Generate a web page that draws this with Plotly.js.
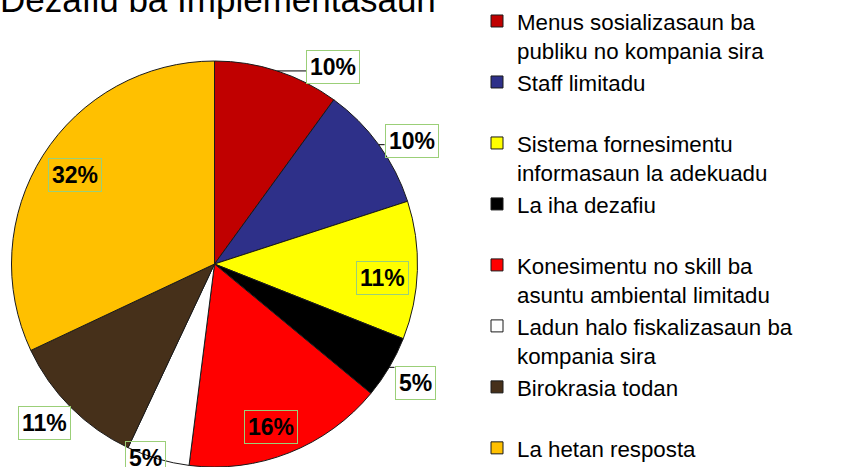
<!DOCTYPE html>
<html><head><meta charset="utf-8">
<script src="https://cdn.plot.ly/plotly-3.0.1.min.js"></script>
<style>html,body{margin:0;padding:0;background:#fff}#chart{width:850px;height:467px}</style>
</head><body><div id="chart"></div>
<script>
// ---- data ----
const chartTitle = 'Dezafiu ba Implementasaun';
const categories = [
  'Menus sosializasaun ba<br>publiku no kompania sira',
  'Staff limitadu',
  'Sistema fornesimentu<br>informasaun la adekuadu',
  'La iha dezafiu',
  'Konesimentu no skill ba<br>asuntu ambiental limitadu',
  'Ladun halo fiskalizasaun ba<br>kompania sira',
  'Birokrasia todan',
  'La hetan resposta'
];
const values = [10, 10, 11, 5, 16, 5, 11, 32];
const sliceColors = ['#C00000', '#2E3089', '#FFFF00', '#000000', '#FF0000', '#FFFFFF', '#46301A', '#FFC000'];
// label placement relative to each slice: [radius factor, angle offset (deg)]
const labelPlacement = [[1.135, 13], [1.145, 4], [0.83, 3], [1.148, 0], [0.85, 2.6], [1.017, 3.4], [1.145, 2], [0.816, 0]];

// ---- geometry ----
const W = 850, H = 467;
const domX = [11 / W, 418 / W], domY = [0, 406 / H];
const pieW = (domX[1] - domX[0]) * W, pieH = (domY[1] - domY[0]) * H;
const R = Math.min(pieW, pieH) / 2;
const cx = (domX[0] + domX[1]) / 2 * W, cy = H - (domY[0] + domY[1]) / 2 * H;
const total = values.reduce((a, b) => a + b, 0);
const labFont = 23, labPad = 3;

const legendLabels = categories.map(c => c.indexOf('<br>') >= 0 ? c : c + '<br>\u00a0');

const annotations = [], shapes = [];
let cum = 0;
values.forEach((v, i) => {
  const mid = (cum + v / 2) / total * 360; cum += v;
  const [rf, off] = labelPlacement[i];
  const a = (mid + off) * Math.PI / 180;
  const lx = cx + R * rf * Math.sin(a), ly = cy - R * rf * Math.cos(a);
  const txt = Math.round(v / total * 100) + '%';
  annotations.push({
    xref: 'paper', yref: 'paper', x: lx / W, y: 1 - ly / H, text: '<b>' + txt + '</b>',
    showarrow: false, xanchor: 'center', yanchor: 'middle',
    font: {family: 'Liberation Sans, Arial, sans-serif', size: labFont, color: '#000'},
    bordercolor: '#9BCF78', borderwidth: 1, borderpad: labPad, bgcolor: 'rgba(0,0,0,0)'
  });
  if (rf > 1) {
    const am = mid * Math.PI / 180;
    const ex = cx + R * Math.sin(am), ey = cy - R * Math.cos(am);
    let em = 0; for (const ch of txt) em += (ch === '%' ? 0.889 : 0.556);
    const hw = em * labFont / 2 + labPad + 1, hh = 15.5;
    const nx = Math.min(Math.max(ex, lx - hw), lx + hw);
    const ny = Math.min(Math.max(ey, ly - hh), ly + hh);
    if (Math.hypot(nx - ex, ny - ey) > 3) {
      shapes.push({type: 'line', xref: 'paper', yref: 'paper',
        x0: ex / W, y0: 1 - ey / H, x1: nx / W, y1: 1 - ny / H,
        line: {color: '#000', width: 1}});
    }
  }
});

const trace = {
  type: 'pie', labels: legendLabels, values: values,
  marker: {colors: sliceColors, line: {color: '#1a1a1a', width: 1}},
  sort: false, direction: 'clockwise', rotation: 0,
  textinfo: 'none', hoverinfo: 'none',
  domain: {x: domX, y: domY}
};

const layout = {
  width: W, height: H,
  margin: {l: 0, r: 0, t: 0, b: 0},
  paper_bgcolor: '#fff',
  font: {family: 'Liberation Sans, Arial, sans-serif', color: '#000'},
  title: {text: chartTitle, xref: 'container', yref: 'container', x: 0, xanchor: 'left',
    y: 1 - 12 / H, yanchor: 'bottom', font: {size: 35, color: '#000', family: 'Liberation Sans, Arial, sans-serif'}},
  showlegend: true,
  legend: {x: 477 / W, xanchor: 'left', y: 1 - 6 / H, yanchor: 'top', valign: 'top',
    font: {size: 22.3, color: '#000', family: 'Liberation Sans, Arial, sans-serif'},
    bgcolor: 'rgba(0,0,0,0)', borderwidth: 0, traceorder: 'normal'},
  annotations: annotations, shapes: shapes
};

Plotly.newPlot('chart', [trace], layout, {displayModeBar: false, staticPlot: true});
</script>
</body></html>
